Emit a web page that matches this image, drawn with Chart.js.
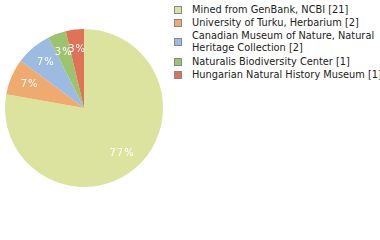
<!DOCTYPE html>
<html>
<head>
<meta charset="utf-8">
<script src="https://cdn.jsdelivr.net/npm/chart.js@4/dist/chart.umd.min.js"></script>
<style>
  body { margin: 0; width: 380px; height: 240px; background: #fff; position: relative; overflow: hidden; font-family: "DejaVu Sans", sans-serif; }
  #pie { position: absolute; left: 5px; top: 29px; }
  #legenda { position: absolute; left: 174px; top: 0; font-size: 9.8px; color: #222; line-height: 12px; }
  .item { position: absolute; left: 0; padding-left: 18px; white-space: nowrap; }
  .item span.box { position: absolute; left: 0; top: 50%; margin-top: -4px; width: 6px; height: 6px; border: 1px solid #888; }
</style>
</head>
<body>
<canvas id="pie" width="158" height="158"></canvas>
<div id="legenda"></div>
<script>
// dados do grafico
var rotulos = ['Mined from GenBank, NCBI', 'University of Turku, Herbarium', 'Canadian Museum of Nature, Natural Heritage Collection', 'Naturalis Biodiversity Center', 'Hungarian Natural History Museum'];
var linhasLegenda = [['Mined from GenBank, NCBI [21]'], ['University of Turku, Herbarium [2]'], ['Canadian Museum of Nature, Natural', 'Heritage Collection [2]'], ['Naturalis Biodiversity Center [1]'], ['Hungarian Natural History Museum [1]']];
var valores = [21, 2, 2, 1, 1];
var cores = ['#dce39f', '#efab6f', '#9dbae0', '#9cc46f', '#e07258'];

var total = valores.reduce(function (a, b) { return a + b; }, 0);

// plugin pra escrever as porcentagens
var rotulosPct = {
  id: 'rotulosPct',
  afterDatasetsDraw: function (chart) {
    var c = chart.ctx;
    var meta = chart.getDatasetMeta(0);
    c.save();
    c.fillStyle = '#fff';
    c.font = '10px "DejaVu Sans"';
    c.letterSpacing = '1px';
    c.textAlign = 'center';
    c.textBaseline = 'middle';
    meta.data.forEach(function (arco, i) {
      var p = arco.getProps(['x', 'y', 'startAngle', 'endAngle', 'outerRadius']);
      var meio = (p.startAngle + p.endAngle) / 2;
      var r = p.outerRadius * 0.75;
      var txt = Math.floor(valores[i] / total * 100) + '%';
      c.fillText(txt, p.x + Math.cos(meio) * r, p.y + Math.sin(meio) * r);
    });
    c.restore();
  }
};

var ctx = document.getElementById('pie').getContext('2d');
var grafico = new Chart(ctx, {
  type: 'pie',
  data: {
    labels: rotulos,
    datasets: [{
      data: valores,
      backgroundColor: cores,
      borderWidth: 0
    }]
  },
  options: {
    responsive: false,
    animation: false,
    plugins: { legend: { display: false }, tooltip: { enabled: false } }
  },
  plugins: [rotulosPct]
});

// legenda em html, cada item numa altura
var topos = [4, 17, 30, 56, 69];
var leg = document.getElementById('legenda');
linhasLegenda.forEach(function (linhas, i) {
  var d = document.createElement('div');
  d.className = 'item';
  d.style.top = topos[i] + 'px';
  d.innerHTML = '<span class="box" style="background:' + cores[i] + '"></span>' + linhas.join('<br>');
  leg.appendChild(d);
});
</script>
</body>
</html>
